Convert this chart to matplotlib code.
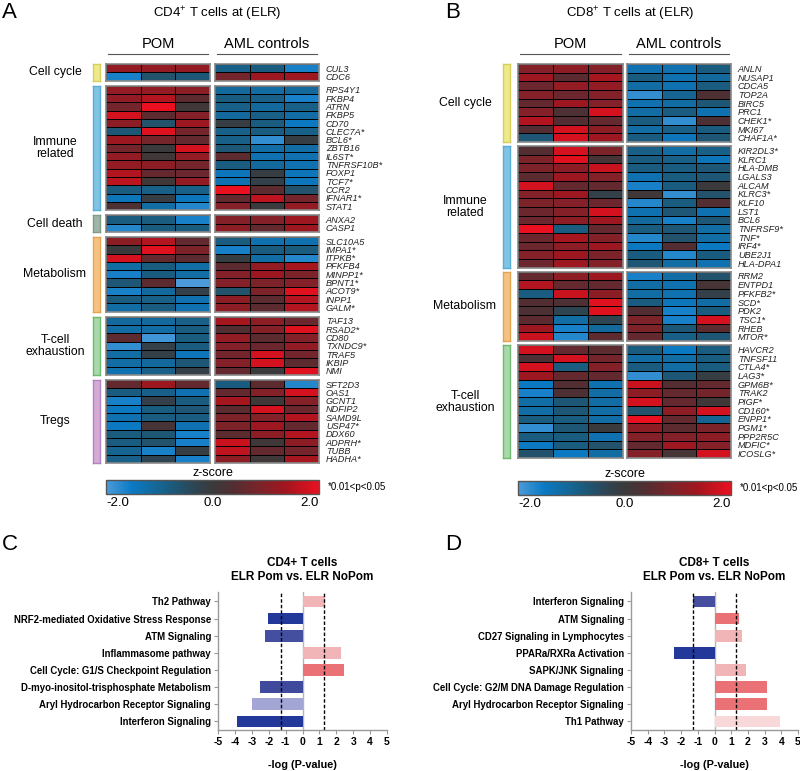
import numpy as np
import matplotlib
matplotlib.use("Agg")
import matplotlib.pyplot as plt
from matplotlib.colors import LinearSegmentedColormap, Normalize
from matplotlib.colorbar import ColorbarBase

plt.rcParams["font.family"] = ["Liberation Sans", "DejaVu Sans"]
plt.rcParams["mathtext.default"] = "regular"
plt.rcParams["axes.unicode_minus"] = False

W, H = 800, 771

# ---- panel A: CD4+ heatmap (3 POM columns, 3 AML control columns) ----
cd4_cell_cycle_genes = ["CUL3", "CDC6"]
cd4_cell_cycle = [
    [1.2, 1.2, 1.2, -0.9, -0.8, -1.6],
    [-1.6, -0.6, -0.7, 0.8, 1.3, 1.3],
]
cd4_immune_genes = ["RPS4Y1", "FKBP4", "ATRN", "FKBP5", "CD70", "CLEC7A*", "BCL6*", "ZBTB16",
                    "IL6ST*", "TNFRSF10B*", "FOXP1", "TCF7*", "CCR2", "IFNAR1*", "STAT1"]
cd4_immune = [
    [1.2, 1.2, 1.1, -1.1, -1.2, -1.1],
    [1.2, 1.5, 0.5, -0.8, -0.9, -1.6],
    [0.8, 2.0, 0.1, -0.9, -1.1, -0.9],
    [1.8, 0.5, 1.0, -1.1, -0.9, -1.2],
    [1.1, -0.6, 1.3, -0.1, -0.8, -1.5],
    [-0.7, 1.9, 0.8, -0.9, -0.8, -0.9],
    [1.3, 0.8, 0.6, -0.9, -1.8, -0.1],
    [0.8, 0.0, 1.8, -0.7, -1.2, -1.2],
    [1.2, 0.1, 1.2, 0.5, -1.3, -1.3],
    [1.2, 1.1, 0.8, -0.8, -1.1, -1.3],
    [1.5, 0.6, 0.7, -1.4, -0.1, -1.4],
    [1.6, 0.1, 1.2, -1.3, -0.2, -1.4],
    [-0.8, -0.9, -0.9, 2.0, 0.5, -0.6],
    [-1.4, -0.1, -1.4, 0.6, 1.6, 0.8],
    [0.3, -1.2, -1.7, 1.0, 0.0, 1.2],
]
cd4_death_genes = ["ANXA2", "CASP1"]
cd4_death = [
    [-0.8, -0.8, -1.6, 1.0, 1.0, 1.3],
    [-1.7, -0.8, -0.8, 1.1, 0.6, 1.3],
]
cd4_metab_genes = ["SLC10A5", "IMPA1*", "ITPKB*", "PFKFB4", "MINPP1*", "BPNT1*", "ACOT9*", "INPP1", "GALM*"]
cd4_metab = [
    [1.1, 1.5, 0.6, -0.8, -1.3, -1.3],
    [0.0, 1.9, 0.9, -1.6, -0.8, -0.8],
    [1.8, 0.6, 0.5, -0.1, -1.2, -1.7],
    [-1.2, -0.8, -1.2, 0.5, 1.2, 1.4],
    [-1.6, -0.8, -1.2, 1.0, 1.3, 0.9],
    [-0.7, 0.5, -2.0, 1.0, 0.9, 1.0],
    [-1.6, -1.1, -0.2, -0.6, 0.9, 1.9],
    [-0.8, -0.9, -1.3, 1.1, 0.5, 1.5],
    [-1.2, -0.8, -1.3, 1.1, 0.5, 1.5],
]
cd4_exh_genes = ["TAF13", "RSAD2*", "CD80", "TXNDC9*", "TRAF5", "IKBIP", "NMI"]
cd4_exh = [
    [-1.1, -1.1, -0.9, 1.4, 1.1, 0.7],
    [-1.2, -1.2, -0.8, 0.4, 1.0, 1.9],
    [0.5, -1.9, -0.8, 1.2, 0.5, 1.0],
    [-1.8, -0.2, -0.8, 1.0, 0.7, 1.2],
    [-1.2, -0.2, -1.4, 0.8, 1.8, 0.8],
    [-1.2, -1.1, -0.7, 1.0, 1.8, 0.5],
    [-1.3, -0.9, -0.2, 0.6, 0.0, 1.9],
]
cd4_treg_genes = ["SFT2D3", "OAS1", "GCNT1", "NDFIP2", "SAMD9L", "USP47*", "DDX60", "ADPRH*", "TUBB", "HADHA*"]
cd4_treg = [
    [0.6, 1.3, 0.6, -0.8, 0.5, -1.7],
    [-0.8, -0.9, -1.3, 0.6, 1.0, 1.8],
    [-1.6, -0.2, -0.8, 1.4, 0.1, 1.0],
    [-1.5, -0.8, -0.7, 0.5, 1.8, 0.7],
    [-1.3, -0.8, -0.8, 0.9, 1.0, 1.5],
    [-1.5, 0.2, -1.3, 0.9, 1.3, 0.6],
    [-0.8, -0.7, -1.6, 0.5, 1.1, 1.5],
    [-0.8, -0.6, -1.6, 1.7, 0.1, 1.1],
    [-1.0, -1.6, -0.1, 1.6, 0.6, 0.8],
    [-0.9, -0.3, -1.6, 1.1, 0.1, 1.4],
]

# ---- panel B: CD8+ heatmap ----
cd8_cell_cycle_genes = ["ANLN", "NUSAP1", "CDCA5", "TOP2A", "BIRC5", "PRC1", "CHEK1*", "MKI67", "CHAF1A*"]
cd8_cell_cycle = [
    [1.0, 1.1, 1.0, -1.3, -1.3, -0.8],
    [1.3, 0.5, 1.4, -0.8, -1.3, -1.1],
    [0.7, 1.2, 1.2, -1.2, -1.3, -0.8],
    [1.0, 0.7, 1.0, -1.8, -1.0, 0.3],
    [0.6, 1.3, 1.0, -1.3, -1.2, -0.7],
    [1.0, 0.3, 1.8, -1.2, -0.8, -1.3],
    [1.5, 0.4, 0.6, -0.8, -1.8, 0.3],
    [0.4, 1.8, 1.1, -1.2, -0.9, -0.8],
    [-0.7, 1.8, 1.3, -0.8, -1.4, -0.7],
]
cd8_immune_genes = ["KIR2DL3*", "KLRC1", "HLA-DMB", "LGALS3", "ALCAM", "KLRC3*", "KLF10", "LST1",
                    "BCL6", "TNFRSF9*", "TNF*", "IRF4*", "UBE2J1", "HLA-DPA1"]
cd8_immune = [
    [0.4, 1.8, 0.9, -0.9, -1.2, -0.9],
    [0.9, 1.9, 0.2, -0.8, -0.9, -1.4],
    [0.9, 1.1, 1.7, -0.8, -0.8, -0.7],
    [0.5, 1.3, 1.0, -1.3, -0.8, -0.7],
    [1.8, 0.6, 0.6, -1.6, -0.8, 0.0],
    [1.0, 1.3, -0.2, 0.1, -1.8, -0.6],
    [0.9, 1.0, 0.7, -1.7, -0.8, 0.4],
    [0.7, 1.0, 1.8, -1.3, -0.7, -1.3],
    [0.7, 1.1, 1.3, -1.1, -1.6, -0.7],
    [2.0, -0.8, 0.6, -0.8, -0.7, -1.2],
    [0.7, 1.4, 1.0, -1.7, -0.6, -1.2],
    [0.7, 1.1, 1.3, -1.5, 0.4, -1.5],
    [1.0, 1.3, 0.9, -0.8, -1.7, -0.8],
    [0.7, 1.3, 1.0, -0.7, -1.2, -1.3],
]
cd8_metab_genes = ["RRM2", "ENTPD1", "PFKFB2*", "SCD*", "PDK2", "TSC1*", "RHEB", "MTOR*"]
cd8_metab = [
    [0.6, 1.1, 1.3, -1.6, -1.2, -0.6],
    [1.5, 0.6, 0.6, -1.2, -1.3, 0.2],
    [-0.8, 1.7, 1.1, -1.2, -1.3, -0.2],
    [0.4, 0.3, 1.9, -0.8, -1.4, -1.2],
    [0.3, -0.3, 1.9, 0.4, -1.6, -0.8],
    [0.5, -1.2, -0.3, 0.9, -1.6, 1.8],
    [1.3, -1.6, -1.1, 0.9, -0.7, 0.5],
    [1.7, -1.7, 0.5, 0.6, -0.9, -0.7],
]
cd8_exh_genes = ["HAVCR2", "TNFSF11", "CTLA4*", "LAG3*", "GPM6B*", "TRAK2", "PIGF*", "CD160*",
                 "ENPP1*", "PGM1*", "PPP2R5C", "MDFIC*", "ICOSLG*"]
cd8_exh = [
    [1.8, 0.6, 0.5, -0.8, -1.5, -0.8],
    [0.3, 1.8, 0.8, -1.2, -1.2, -0.8],
    [1.8, -0.8, 1.0, -0.8, -1.2, -0.8],
    [1.3, 0.6, 0.6, -1.8, -0.7, -0.1],
    [-1.5, 0.4, -1.3, 1.7, 0.4, 0.6],
    [-1.6, 0.3, -1.2, 1.1, 0.6, 0.8],
    [-1.2, -0.7, -1.2, 1.8, 0.6, 0.1],
    [-1.2, -0.7, -1.2, -0.6, 1.1, 1.8],
    [-0.8, -0.8, -1.2, 2.0, 0.6, -1.0],
    [-1.8, -0.7, 0.0, 1.1, 0.5, 0.9],
    [-0.8, -0.8, -1.3, 1.0, 1.0, 1.1],
    [-1.5, -0.8, -0.6, 0.6, 1.3, 1.0],
    [-0.6, -1.5, -1.2, 1.0, 0.2, 1.8],
]

# ---- panels C / D: pathway bars ----
cd4_pathways = ["Th2 Pathway", "NRF2-mediated Oxidative Stress Response", "ATM Signaling",
                "Inflammasome pathway", "Cell Cycle: G1/S Checkpoint Regulation",
                "D-myo-inositol-trisphosphate Metabolism", "Aryl Hydrocarbon Receptor Signaling",
                "Interferon Signaling"]
cd4_logp = [1.33, -2.05, -2.2, 2.27, 2.46, -2.5, -2.98, -3.87]
cd4_bar_colors = ["#f2b5b7", "#22399a", "#444f9f", "#f2b5b7", "#ea7277", "#3f4a9d", "#a3a6d5", "#22399a"]

cd8_pathways = ["Interferon Signaling", "ATM Signaling", "CD27 Signaling in Lymphocytes",
                "PPARa/RXRa Activation", "SAPK/JNK Signaling", "Cell Cycle: G2/M DNA Damage Regulation",
                "Aryl Hydrocarbon Receptor Signaling", "Th1 Pathway"]
cd8_logp = [-1.3, 1.47, 1.65, -2.43, 1.9, 3.15, 3.15, 3.95]
cd8_bar_colors = ["#464f9f", "#ea7277", "#f2b5b7", "#22399a", "#f2b5b7", "#ea7277", "#ea7277", "#f8d8d9"]

group_colors = {
    "Cell cycle": ("#eeea8c", "#d6cf5e"),
    "Immune\nrelated": ("#80c4e4", "#58acd6"),
    "Cell death": ("#a0b5a7", "#7d9b89"),
    "Metabolism": ("#f6c283", "#e3a452"),
    "T-cell\nexhaustion": ("#a9d8aa", "#6db96f"),
    "Tregs": ("#d5abd6", "#b283c2"),
}

zcmap = LinearSegmentedColormap.from_list("z", [
    (0.00, "#4c9bd9"), (0.12, "#0b7ac4"), (0.30, "#1a5c7e"), (0.42, "#2f4452"),
    (0.50, "#3a3a3c"), (0.60, "#522d31"), (0.72, "#7a242a"), (0.84, "#a0161f"),
    (1.00, "#ea101f"),
])


def px_axes(fig, x0, y0, x1, y1):
    return fig.add_axes([x0 / W, 1 - y1 / H, (x1 - x0) / W, (y1 - y0) / H])


def heatmap_panel(fig, groups, x_pom, x_aml, y_top, row_h, gap, bar_x, label_x):
    y = y_top
    for name, genes, vals in groups:
        n = len(genes)
        y1 = y + n * row_h
        arr = np.array(vals)
        for (x0, x1), block in zip([x_pom, x_aml], [arr[:, :3], arr[:, 3:]]):
            ax = px_axes(fig, x0, y, x1, y1)
            ax.pcolormesh(block, cmap=zcmap, vmin=-2, vmax=2, edgecolors="black", linewidth=0.5)
            ax.set_ylim(n, 0)
            ax.set_xticks([])
            ax.set_yticks([])
            for s in ax.spines.values():
                s.set_color("#8a8a8a")
                s.set_linewidth(1.2)
        ax.yaxis.tick_right()
        ax.set_yticks(np.arange(n) + 0.5)
        ax.set_yticklabels(genes, fontsize=6.6, style="italic", color="#222222")
        ax.tick_params(axis="y", length=0, pad=5)
        face, edge = group_colors[name]
        bax = px_axes(fig, bar_x, y, bar_x + 7, y1)
        bax.set_facecolor(face)
        bax.set_xticks([])
        bax.set_yticks([])
        for s in bax.spines.values():
            s.set_color(edge)
            s.set_linewidth(1.0)
        fig.text(label_x / W, 1 - (y + y1) / 2 / H, name, ha="center", va="center",
                 fontsize=8.8, linespacing=1.0)
        y = y1 + gap
    return y


def header(fig, title, letter, letter_x, title_x, x_pom, x_aml):
    fig.text(letter_x / W, 1 - 13 / H, letter, fontsize=16, ha="left", va="center")
    fig.text(title_x / W, 1 - 14 / H, title, fontsize=9.5, ha="center", va="center")
    for (x0, x1), lab in zip([x_pom, x_aml], ["POM", "AML controls"]):
        fig.text((x0 + x1) / 2 / W, 1 - 44 / H, lab, fontsize=10.5, ha="center", va="center")
        fig.add_artist(plt.Line2D([(x0 + 2) / W, (x1 - 2) / W], [1 - 54 / H] * 2,
                                  color="#555555", linewidth=0.8))


def zbar(fig, x0, x1, y0):
    fig.text((x0 + x1) / 2 / W, 1 - (y0 - 7) / H, "z-score", fontsize=9, ha="center", va="center")
    cax = px_axes(fig, x0, y0, x1, y0 + 14)
    cb = ColorbarBase(cax, cmap=zcmap, norm=Normalize(-2, 2), orientation="horizontal", ticks=[-2, 0, 2])
    cb.outline.set_edgecolor("#555555")
    cb.outline.set_linewidth(1.0)
    cax.set_xticklabels(["-2.0", "0.0", "2.0"])
    cax.tick_params(axis="x", length=0, labelsize=9.5, pad=2)
    labs = cax.get_xticklabels()
    labs[0].set_ha("left")
    labs[-1].set_ha("right")
    fig.text((x1 + 9) / W, 1 - (y0 + 7) / H, "*0.01<p<0.05", fontsize=7, ha="left", va="center")


def pathway_bars(fig, x0, x1, names, vals, colors, title, letter, letter_x):
    ax = px_axes(fig, x0, 592, x1, 730)
    pos = np.arange(len(names))
    ax.barh(pos, vals, height=0.68, color=colors)
    ax.axvline(0, color="#b5b5b5", linewidth=1.0, zorder=0)
    for v in (-1.3, 1.3):
        ax.axvline(v, color="black", linestyle=(0, (2.5, 1.5)), linewidth=1.0)
    ax.set_xlim(-5, 5)
    ax.set_ylim(len(names) - 0.5, -0.55)
    ax.set_xticks(np.arange(-5, 6))
    ax.set_yticks(pos)
    ax.set_yticklabels(names, fontsize=6.9, fontweight="bold")
    ax.tick_params(axis="x", labelsize=7.5, length=3, color="#999999", pad=2)
    ax.tick_params(axis="y", length=3, color="#999999", pad=2)
    for t in ax.get_xticklabels():
        t.set_fontweight("bold")
    for side in ("top", "right"):
        ax.spines[side].set_visible(False)
    for side in ("left", "bottom"):
        ax.spines[side].set_color("#999999")
        ax.spines[side].set_linewidth(1.0)
    ax.set_title(title, fontsize=8.5, fontweight="bold", pad=9, linespacing=1.15)
    fig.text((x0 + x1) / 2 / W, 1 - 765 / H, "-log (P-value)", fontsize=7.8, fontweight="bold",
             ha="center", va="center")
    fig.text(letter_x / W, 1 - 545 / H, letter, fontsize=16, ha="left", va="center")


fig = plt.figure(figsize=(W / 100, H / 100), dpi=100)

# A
header(fig, "CD4$^{+}$ T cells at (ELR)", "A", 2, 217, (106, 210), (215, 319))
heatmap_panel(fig, [
    ("Cell cycle", cd4_cell_cycle_genes, cd4_cell_cycle),
    ("Immune\nrelated", cd4_immune_genes, cd4_immune),
    ("Cell death", cd4_death_genes, cd4_death),
    ("Metabolism", cd4_metab_genes, cd4_metab),
    ("T-cell\nexhaustion", cd4_exh_genes, cd4_exh),
    ("Tregs", cd4_treg_genes, cd4_treg),
], (106, 210), (215, 319), 64, 8.31, 5, 93, 55)
zbar(fig, 106, 319, 480)

# B
header(fig, "CD8$^{+}$ T cells at (ELR)", "B", 445, 630, (518, 623), (627, 731))
heatmap_panel(fig, [
    ("Cell cycle", cd8_cell_cycle_genes, cd8_cell_cycle),
    ("Immune\nrelated", cd8_immune_genes, cd8_immune),
    ("Metabolism", cd8_metab_genes, cd8_metab),
    ("T-cell\nexhaustion", cd8_exh_genes, cd8_exh),
], (518, 623), (627, 731), 64, 8.68, 4, 503, 465)
zbar(fig, 518, 731, 481)

# C / D
pathway_bars(fig, 218, 387, cd4_pathways, cd4_logp, cd4_bar_colors,
             "CD4+ T cells\nELR Pom vs. ELR NoPom", "C", 2)
pathway_bars(fig, 631, 798, cd8_pathways, cd8_logp, cd8_bar_colors,
             "CD8+ T cells\nELR Pom vs. ELR NoPom", "D", 445)

fig.savefig("out.png", dpi=100)
